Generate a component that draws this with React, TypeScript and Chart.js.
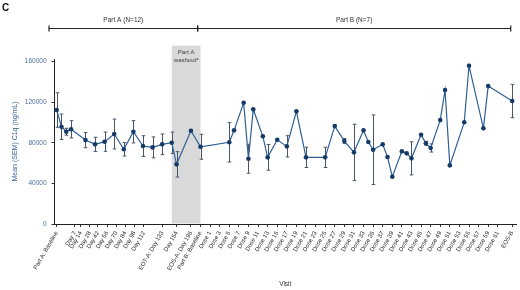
import React, { useEffect, useRef } from "react";
import { Chart, registerables } from "chart.js";
Chart.register(...registerables);

const FONT = "'Liberation Sans', Arial, Helvetica, sans-serif";

// visit position on the x axis (one unit = one dose slot)
const visitPos = [
  0, 1, 2, 3, 6, 8, 10, 12, 14, 16, 18, 20, 22, 24, 25, 28, 30,
  36, 37, 39, 40, 41, 43, 44, 46, 48, 50, 52, 56, 58, 60, 62, 64, 65, 66, 68, 69, 70,
  72, 73, 74, 76, 77, 78, 80, 81, 82, 85, 86, 89, 90, 95,
];
// mean C1q (ng/mL)
const meanC1q = [
  112300, 95800, 90900, 93300, 82700, 78500, 81100, 88650, 73600, 90900, 76800, 75500, 78500, 80100, 58800, 91900, 76100,
  80500, 92300, 119500, 64300, 113000, 86400, 65700, 83000, 76500, 111000, 65700, 65700, 96500, 81750, 70600, 92300, 80800, 73200, 78500, 66000, 46600,
  71600, 69600, 64700, 88000, 79500, 74900, 102400, 132000, 57800, 100200, 155900, 94300, 135900, 121200,
];
// SEM (ng/mL), 0 = no bar shown
const semC1q = [
  17000, 12500, 3400, 8500, 7500, 7000, 9500, 14700, 6600, 11000, 10200, 10300, 10200, 10500, 12500, 0, 12300,
  19400, 0, 0, 14300, 0, 0, 12700, 0, 10500, 0, 10000, 10000, 0, 2500, 27700, 0, 0, 34300, 0, 0, 0,
  0, 0, 16300, 0, 2000, 4000, 0, 0, 0, 0, 0, 0, 0, 16400,
];

const tickPos = [
  0, 3.8, 5, 6.9, 8.6, 10.5, 12.4, 14.3, 16.2, 18.2, 22, 25, 28, 30,
  32, 34, 36, 38, 40, 42, 44, 46, 48, 50, 52, 54, 56, 58, 60, 62, 64, 66, 68, 70,
  72, 74, 76, 78, 80, 82, 84, 86, 88, 90, 92, 95,
];
const tickLabels = [
  "Part A: Baseline", "Day 7", "Day 14", "Day 28", "Day 42", "Day 56", "Day 70", "Day 84", "Day 98", "Day 112",
  "EOT-A: Day 133", "Day 154", "EOS-A: Day 196", "Part B: Baseline",
  "Dose 1", "Dose 3", "Dose 5", "Dose 7", "Dose 9", "Dose 11", "Dose 13", "Dose 15", "Dose 17", "Dose 19",
  "Dose 21", "Dose 23", "Dose 25", "Dose 27", "Dose 29", "Dose 31", "Dose 33", "Dose 35", "Dose 37", "Dose 39",
  "Dose 41", "Dose 43", "Dose 45", "Dose 47", "Dose 49", "Dose 51", "Dose 53", "Dose 55", "Dose 57", "Dose 59",
  "Dose 61", "EOS-B",
];
const yTicks = [0, 40000, 80000, 120000, 160000];

const washout = [24, 30];
const partA = { label: "Part A (N=12)", from: -1.6, to: 29.4 };
const partB = { label: "Part B (N=7)", from: 29.4, to: 94.7 };

const decor = {
  id: "decor",
  beforeDraw(chart: any) {
    const { ctx, chartArea, scales } = chart;
    const x = scales.x;
    const x0 = x.getPixelForValue(washout[0]);
    const x1 = x.getPixelForValue(washout[1]);
    const top = chartArea.top - 13.3;
    ctx.save();
    ctx.fillStyle = "#d9d9d9";
    ctx.fillRect(x0, top, x1 - x0, chartArea.bottom - 0.5 - top);
    ctx.fillStyle = "#3a3a3a";
    ctx.font = `6px ${FONT}`;
    ctx.textAlign = "center";
    ctx.textBaseline = "middle";
    const cx = (x0 + x1) / 2;
    ctx.fillText("Part A", cx, top + 6.2);
    ctx.fillText("washoutᵃ", cx, top + 15);
    ctx.restore();
  },
  beforeDatasetsDraw(chart: any) {
    const { ctx, scales } = chart;
    const x = scales.x, y = scales.y;
    ctx.save();
    ctx.strokeStyle = "#4a5568";
    ctx.lineWidth = 1;
    visitPos.forEach((v, i) => {
      const s = semC1q[i];
      if (!s) return;
      const px = Math.round(x.getPixelForValue(v)) + 0.5;
      const yt = y.getPixelForValue(meanC1q[i] + s);
      const yb = y.getPixelForValue(meanC1q[i] - s);
      ctx.beginPath();
      ctx.moveTo(px, yt);
      ctx.lineTo(px, yb);
      ctx.moveTo(px - 1.8, yt);
      ctx.lineTo(px + 1.8, yt);
      ctx.moveTo(px - 1.8, yb);
      ctx.lineTo(px + 1.8, yb);
      ctx.stroke();
    });
    ctx.restore();
  },
  afterDraw(chart: any) {
    const { ctx, scales } = chart;
    const x = scales.x;
    ctx.save();
    ctx.fillStyle = "#111";
    ctx.font = `bold 10px ${FONT}`;
    ctx.textBaseline = "top";
    ctx.fillText("C", 2, 3);
    const ly = 28.5;
    ctx.strokeStyle = "#222";
    ctx.lineWidth = 1.2;
    [partA, partB].forEach((p) => {
      const a = x.getPixelForValue(p.from);
      const b = x.getPixelForValue(p.to);
      ctx.beginPath();
      ctx.moveTo(a, ly);
      ctx.lineTo(b, ly);
      ctx.moveTo(a, ly - 3);
      ctx.lineTo(a, ly + 3);
      ctx.moveTo(b, ly - 3);
      ctx.lineTo(b, ly + 3);
      ctx.stroke();
      ctx.fillStyle = "#333";
      ctx.font = `6.5px ${FONT}`;
      ctx.textAlign = "center";
      ctx.textBaseline = "middle";
      ctx.fillText(p.label, (a + b) / 2, 20);
    });
    ctx.restore();
  },
};

export default function App() {
  const ref = useRef<HTMLCanvasElement>(null);
  useEffect(() => {
    const canvas = ref.current!;
    const chart = new Chart(canvas, {
      type: "line",
      data: {
        datasets: [
          {
            data: visitPos.map((v, i) => ({ x: v, y: meanC1q[i] })),
            borderColor: "#2f5f95",
            borderWidth: 1.2,
            pointRadius: 2.3,
            pointBackgroundColor: "#163a68",
            pointBorderWidth: 0,
            tension: 0,
          },
        ],
      },
      options: {
        animation: false,
        responsive: false,
        devicePixelRatio: 1,
        layout: { padding: { top: 59, left: 0, right: 0.5, bottom: 0 } },
        plugins: { legend: { display: false }, tooltip: { enabled: false } },
        scales: {
          x: {
            type: "linear",
            min: -0.455,
            max: 95.8,
            afterBuildTicks: (s: any) => {
              s.ticks = tickPos.map((v) => ({ value: v }));
            },
            afterFit: (s: any) => {
              s.height = 66;
              s.paddingLeft = 0;
              s.paddingRight = 0;
            },
            ticks: {
              autoSkip: false,
              minRotation: 60,
              maxRotation: 60,
              padding: 3,
              color: "#2a2a2a",
              font: { family: FONT, size: 6 },
              callback: (_v: any, i: number) => tickLabels[i],
            },
            grid: { drawOnChartArea: false, tickLength: 3, color: "#333" },
            border: { color: "#222", width: 1 },
            title: {
              display: true,
              text: "Visit",
              color: "#333",
              font: { family: FONT, size: 6.5 },
              padding: { top: 0, bottom: 2 },
            },
          },
          y: {
            min: 0,
            max: 162600,
            afterBuildTicks: (s: any) => {
              s.ticks = yTicks.map((v) => ({ value: v }));
            },
            afterFit: (s: any) => {
              s.width = 54.5;
              s.paddingTop = 0;
              s.paddingBottom = 0;
            },
            ticks: {
              padding: 5,
              color: "#4f6f9f",
              font: { family: FONT, size: 6.5 },
              callback: (v: any) => String(v),
            },
            grid: { drawOnChartArea: false, tickLength: 3, color: "#333" },
            border: { color: "#222", width: 1 },
            title: {
              display: true,
              text: "Mean (SEM) C1q (ng/mL)",
              color: "#3f6296",
              font: { family: FONT, size: 7 },
              padding: { top: 10.5, bottom: 0 },
            },
          },
        },
      },
      plugins: [decor],
    } as any);
    return () => chart.destroy();
  }, []);
  return (
    <div style={{ position: "fixed", left: 0, top: 0, width: 520, height: 290, background: "#fff" }}>
      <canvas ref={ref} width={520} height={290} style={{ display: "block" }} />
    </div>
  );
}
